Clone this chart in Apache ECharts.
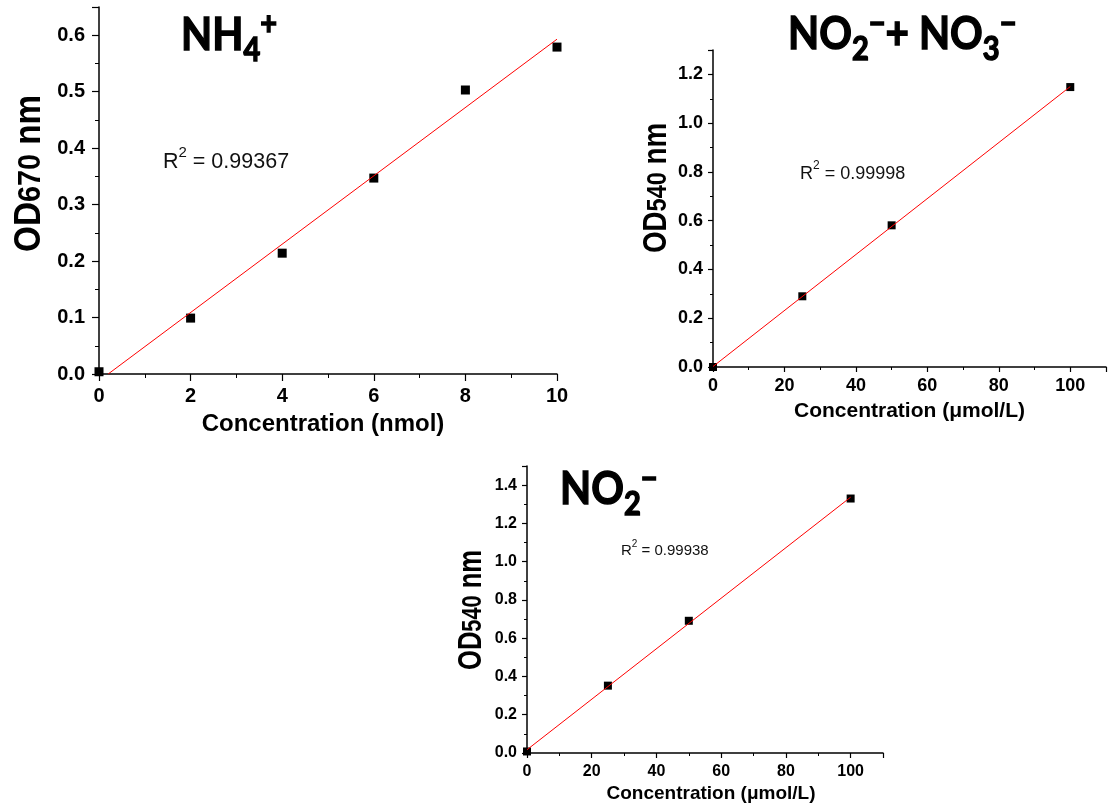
<!DOCTYPE html>
<html>
<head>
<meta charset="utf-8">
<title>Calibration curves</title>
<script src="https://cdn.jsdelivr.net/npm/echarts@6/dist/echarts.min.js"></script>
<style>
  html, body { margin: 0; padding: 0; background: #fff; }
  #main { width: 1109px; height: 809px; }
</style>
</head>
<body>
<div id="main"></div>
<script>
// NH4+ panel
var nh4Conc = [0, 2, 4, 6, 8, 10];
var nh4OD = [0.004, 0.099, 0.214, 0.347, 0.503, 0.579];
var nh4FitX = [0.2, 10];
var nh4FitY = [0, 0.593];
var nh4R2 = '0.99367';

// NO2- + NO3- panel
var noxConc = [0, 25, 50, 100];
var noxOD = [0, 0.29, 0.581, 1.148];
var noxFitX = [0, 100];
var noxFitY = [0.002, 1.15];
var noxR2 = '0.99998';

// NO2- panel
var no2Conc = [0, 25, 50, 100];
var no2OD = [0.008, 0.352, 0.691, 1.33];
var no2FitX = [0, 100];
var no2FitY = [0.017, 1.337];
var no2R2 = '0.99938';

function zip(xs, ys) {
  var out = [];
  for (var i = 0; i < xs.length; i++) {
    out.push([xs[i], ys[i]]);
  }
  return out;
}

var FONT = '"Liberation Sans", Arial, sans-serif';
var TITLE_FONT = 'Lato, "Liberation Sans", sans-serif';

function xAxisOf(gi, max, interval, labelSize, margin, tickLen, name, nameSize, nameGap, shift) {
  return {
    gridIndex: gi,
    type: 'value',
    min: 0,
    max: max,
    interval: interval,
    name: name,
    nameLocation: 'middle',
    nameGap: nameGap,
    nameTextStyle: {
      fontFamily: FONT, fontWeight: 'bold', fontSize: nameSize, color: '#000',
      padding: shift > 0 ? [0, 0, 0, shift * 2] : [0, -shift * 2, 0, 0]
    },
    axisLine: { show: true, onZero: false, lineStyle: { color: '#000', width: 1.5 } },
    axisTick: { show: true, inside: false, length: tickLen, lineStyle: { color: '#000', width: 1.2 } },
    minorTick: { show: true, splitNumber: 2, length: Math.round(tickLen * 0.6), lineStyle: { color: '#000', width: 1 } },
    splitLine: { show: false },
    axisLabel: {
      fontFamily: FONT, fontWeight: 'bold', fontSize: labelSize, color: '#000', margin: margin,
      showMaxLabel: max === 10
    }
  };
}

function yAxisOf(gi, max, interval, labelSize, margin, tickLen) {
  return {
    gridIndex: gi,
    type: 'value',
    min: 0,
    max: max,
    interval: interval,
    axisLine: { show: true, onZero: false, lineStyle: { color: '#000', width: 1.5 } },
    axisTick: { show: true, inside: false, length: tickLen, lineStyle: { color: '#000', width: 1.2 } },
    minorTick: { show: true, splitNumber: 2, length: Math.round(tickLen * 0.6), lineStyle: { color: '#000', width: 1 } },
    splitLine: { show: false },
    axisLabel: {
      fontFamily: FONT, fontWeight: 'bold', fontSize: labelSize, color: '#000', margin: margin, showMaxLabel: false,
      formatter: function (v) { return v.toFixed(1); }
    }
  };
}

function pointsOf(gi, xs, ys, size) {
  return {
    type: 'scatter',
    xAxisIndex: gi,
    yAxisIndex: gi,
    symbol: 'rect',
    symbolSize: size,
    itemStyle: { color: '#000', opacity: 1 },
    data: zip(xs, ys),
    z: 2
  };
}

function fitOf(gi, xs, ys) {
  return {
    type: 'line',
    xAxisIndex: gi,
    yAxisIndex: gi,
    symbol: 'none',
    lineStyle: { color: '#ff0000', width: 1 },
    data: zip(xs, ys),
    z: 3
  };
}

// big chemical formula titles, squeezed a little to look like Calibri
function titleOf(x, y, text) {
  var base = { fontFamily: TITLE_FONT, fontWeight: 'bold', verticalAlign: 'top', fill: '#000', stroke: '#000', lineWidth: 1.4 };
  return {
    type: 'text',
    x: x,
    y: y,
    scaleX: 0.88,
    style: {
      text: text,
      fill: '#000',
      rich: {
        m: Object.assign({ fontSize: 46, padding: [10, 0, 0, 0] }, base),
        d: Object.assign({ fontSize: 33, padding: [32, 0, 0, 0] }, base),
        u: Object.assign({ fontSize: 33, padding: [6, 0, 0, 0] }, base)
      }
    }
  };
}

// rotated y axis title "OD540 nm", digits a bit smaller on the same baseline
function yNameOf(x, yBottom, wavelength, big, small, squeeze) {
  var drop = Math.round(0.85 * (big - small));
  return {
    type: 'text',
    x: x,
    y: yBottom,
    rotation: Math.PI / 2,
    scaleX: squeeze,
    style: {
      text: '{a|OD}{b|' + wavelength + '}{a| nm}',
      fill: '#000',
      rich: {
        a: { fontFamily: FONT, fontWeight: 'bold', fontSize: big, verticalAlign: 'top', padding: [0, 0, 0, 0] },
        b: { fontFamily: FONT, fontWeight: 'bold', fontSize: small, verticalAlign: 'top', padding: [drop, 0, 0, 0] }
      }
    }
  };
}

function r2Of(x, y, value, size, supSize, raise) {
  return {
    type: 'text',
    x: x,
    y: y,
    style: {
      text: '{r|R}{s|2}{r| = ' + value + '}',
      fill: '#111',
      rich: {
        r: { fontFamily: FONT, fontSize: size, verticalAlign: 'top', padding: [raise, 0, 0, 0], fill: '#111' },
        s: { fontFamily: FONT, fontSize: supSize, verticalAlign: 'top', padding: [0, 0, 0, 0], fill: '#111' }
      }
    }
  };
}

var option = {
  backgroundColor: '#fff',
  animation: false,
  grid: [
    { left: 99, top: 7, width: 458, height: 367, outerBoundsMode: 'none', containLabel: false },
    { left: 713, top: 50, width: 393, height: 317, outerBoundsMode: 'none', containLabel: false },
    { left: 527, top: 466, width: 356, height: 287, outerBoundsMode: 'none', containLabel: false }
  ],
  xAxis: [
    xAxisOf(0, 10, 2, 20, 12, 7, 'Concentration (nmol)', 24, 38, -5),
    xAxisOf(1, 110, 20, 18, 10, 5, 'Concentration (\u03bcmol/L)', 21, 34, 0),
    xAxisOf(2, 110, 20, 16, 11, 5, 'Concentration (\u03bcmol/L)', 19, 31, 6)
  ],
  yAxis: [
    yAxisOf(0, 0.65, 0.1, 20, 14, 7),
    yAxisOf(1, 1.3, 0.2, 18, 10, 5),
    yAxisOf(2, 1.5, 0.2, 16, 10, 5)
  ],
  series: [
    pointsOf(0, nh4Conc, nh4OD, 9),
    fitOf(0, nh4FitX, nh4FitY),
    pointsOf(1, noxConc, noxOD, 8),
    fitOf(1, noxFitX, noxFitY),
    pointsOf(2, no2Conc, no2OD, 8),
    fitOf(2, no2FitX, no2FitY)
  ],
  graphic: [
    titleOf(181, 2, '{m|NH}{d|4}{u|+}'),
    titleOf(788, 1, '{m|NO}{d|2}{u|\u2212}{m|+ NO}{d|3}{u|\u2212}'),
    titleOf(560, 456, '{m|NO}{d|2}{u|\u2212}'),
    yNameOf(11, 252, '670', 37, 32, 0.9),
    yNameOf(640, 253, '540', 33, 28, 0.84),
    yNameOf(455, 670, '540', 33, 28, 0.775),
    r2Of(163, 145, nh4R2, 21.5, 15, 6),
    r2Of(800, 160, noxR2, 18, 12, 5),
    r2Of(621, 539, no2R2, 15, 10, 4)
  ]
};

var chart = echarts.init(document.getElementById('main'), null, { renderer: 'canvas' });
chart.setOption(option);
</script>
</body>
</html>
